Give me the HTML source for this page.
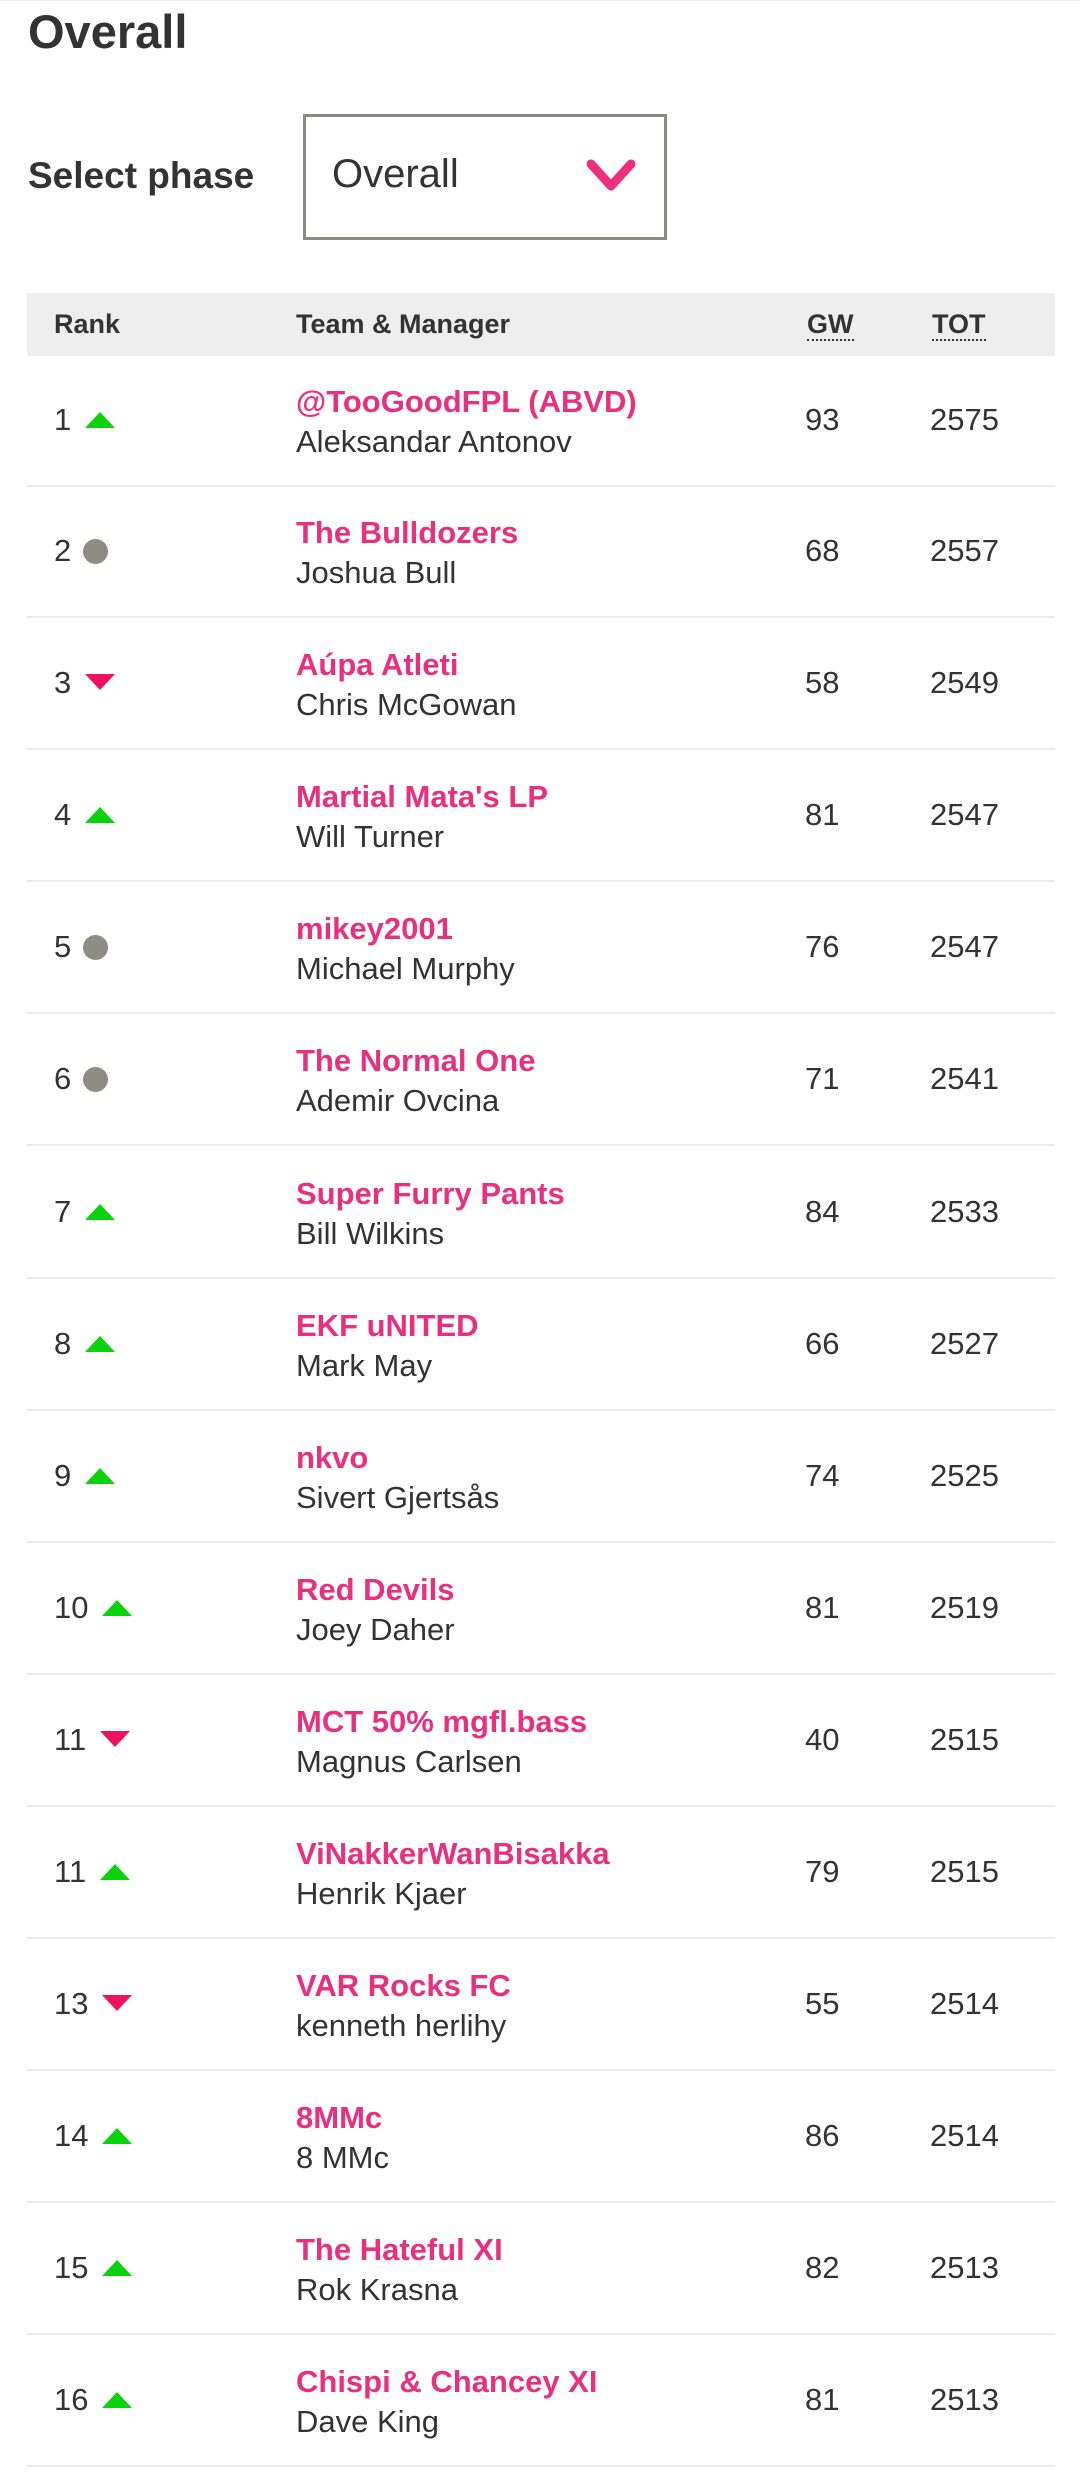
<!DOCTYPE html>
<html><head><meta charset="utf-8"><style>
body{margin:0;width:1080px;height:2482px;background:#fff;position:relative;font-family:"Liberation Sans",sans-serif;color:#333;overflow:hidden}
.a{position:absolute;white-space:nowrap}
.r{position:absolute;left:0;width:1080px;height:132px}
.r>div{position:absolute;white-space:nowrap}
.s{left:27px;width:1028px;top:129px;height:2px;background:#ececec}
.k{left:54px;top:47px;font-size:31px;line-height:34px}
.tn{left:296px;top:28px;color:#e8307f;font-weight:bold;font-size:31px;line-height:36px}
.mn{left:296px;top:69px;font-size:31px;line-height:34px}
.g{left:805px;top:47px;font-size:31px;line-height:34px}
.o{left:930px;top:47px;font-size:31px;line-height:34px}
.up{display:inline-block;width:0;height:0;border-left:15px solid transparent;border-right:15px solid transparent;border-bottom:16px solid #0bd20b;margin-left:14px;vertical-align:2px}
.dn{display:inline-block;width:0;height:0;border-left:15px solid transparent;border-right:15px solid transparent;border-top:16px solid #f0105e;margin-left:14px;vertical-align:3px}
.ci{display:inline-block;width:25px;height:25px;border-radius:50%;background:#8d8d85;margin-left:12px;vertical-align:-3px}
.h{font-size:27px;line-height:36px;top:306px;font-weight:bold}
</style></head><body>
<div style="position:absolute;left:0;top:0;width:1080px;height:1px;background:#eee"></div>
<div class="a" style="left:28px;top:0;font-size:47px;font-weight:bold;line-height:64px">Overall</div>
<div class="a" style="left:28px;top:154px;font-size:37px;font-weight:bold;line-height:44px">Select phase</div>
<div class="a" style="left:303px;top:114px;width:358px;height:120px;border:3px solid #8b8b82"></div>
<div class="a" style="left:332px;top:148px;font-size:40px;line-height:52px">Overall</div>
<svg class="a" style="left:585px;top:158px" width="56" height="36"><polyline points="6,6 26,28 46,6" fill="none" stroke="#ee2f7e" stroke-width="9" stroke-linejoin="round" stroke-linecap="round"/></svg>
<div class="a" style="left:27px;top:293px;width:1028px;height:63px;background:#eeeeee"></div>
<div class="a h" style="left:54px">Rank</div>
<div class="a h" style="left:296px">Team &amp; Manager</div>
<div class="a h" style="left:807px;border-bottom:2px dotted #333;height:33px">GW</div>
<div class="a h" style="left:932px;border-bottom:2px dotted #333;height:33px">TOT</div>

<div class="r" style="top:356px"><div class="s"></div><div class="k">1<span class="up"></span></div><div class="tn">@TooGoodFPL (ABVD)</div><div class="mn">Aleksandar Antonov</div><div class="g">93</div><div class="o">2575</div></div>
<div class="r" style="top:487px"><div class="s"></div><div class="k">2<span class="ci"></span></div><div class="tn">The Bulldozers</div><div class="mn">Joshua Bull</div><div class="g">68</div><div class="o">2557</div></div>
<div class="r" style="top:619px"><div class="s"></div><div class="k">3<span class="dn"></span></div><div class="tn">Aúpa Atleti</div><div class="mn">Chris McGowan</div><div class="g">58</div><div class="o">2549</div></div>
<div class="r" style="top:751px"><div class="s"></div><div class="k">4<span class="up"></span></div><div class="tn">Martial Mata's LP</div><div class="mn">Will Turner</div><div class="g">81</div><div class="o">2547</div></div>
<div class="r" style="top:883px"><div class="s"></div><div class="k">5<span class="ci"></span></div><div class="tn">mikey2001</div><div class="mn">Michael Murphy</div><div class="g">76</div><div class="o">2547</div></div>
<div class="r" style="top:1015px"><div class="s"></div><div class="k">6<span class="ci"></span></div><div class="tn">The Normal One</div><div class="mn">Ademir Ovcina</div><div class="g">71</div><div class="o">2541</div></div>
<div class="r" style="top:1148px"><div class="s"></div><div class="k">7<span class="up"></span></div><div class="tn">Super Furry Pants</div><div class="mn">Bill Wilkins</div><div class="g">84</div><div class="o">2533</div></div>
<div class="r" style="top:1280px"><div class="s"></div><div class="k">8<span class="up"></span></div><div class="tn">EKF uNITED</div><div class="mn">Mark May</div><div class="g">66</div><div class="o">2527</div></div>
<div class="r" style="top:1412px"><div class="s"></div><div class="k">9<span class="up"></span></div><div class="tn">nkvo</div><div class="mn">Sivert Gjertsås</div><div class="g">74</div><div class="o">2525</div></div>
<div class="r" style="top:1544px"><div class="s"></div><div class="k">10<span class="up"></span></div><div class="tn">Red Devils</div><div class="mn">Joey Daher</div><div class="g">81</div><div class="o">2519</div></div>
<div class="r" style="top:1676px"><div class="s"></div><div class="k">11<span class="dn"></span></div><div class="tn">MCT 50% mgfl.bass</div><div class="mn">Magnus Carlsen</div><div class="g">40</div><div class="o">2515</div></div>
<div class="r" style="top:1808px"><div class="s"></div><div class="k">11<span class="up"></span></div><div class="tn">ViNakkerWanBisakka</div><div class="mn">Henrik Kjaer</div><div class="g">79</div><div class="o">2515</div></div>
<div class="r" style="top:1940px"><div class="s"></div><div class="k">13<span class="dn"></span></div><div class="tn">VAR Rocks FC</div><div class="mn">kenneth herlihy</div><div class="g">55</div><div class="o">2514</div></div>
<div class="r" style="top:2072px"><div class="s"></div><div class="k">14<span class="up"></span></div><div class="tn">8MMc</div><div class="mn">8 MMc</div><div class="g">86</div><div class="o">2514</div></div>
<div class="r" style="top:2204px"><div class="s"></div><div class="k">15<span class="up"></span></div><div class="tn">The Hateful XI</div><div class="mn">Rok Krasna</div><div class="g">82</div><div class="o">2513</div></div>
<div class="r" style="top:2336px"><div class="s"></div><div class="k">16<span class="up"></span></div><div class="tn">Chispi &amp; Chancey XI</div><div class="mn">Dave King</div><div class="g">81</div><div class="o">2513</div></div>
</body></html>
